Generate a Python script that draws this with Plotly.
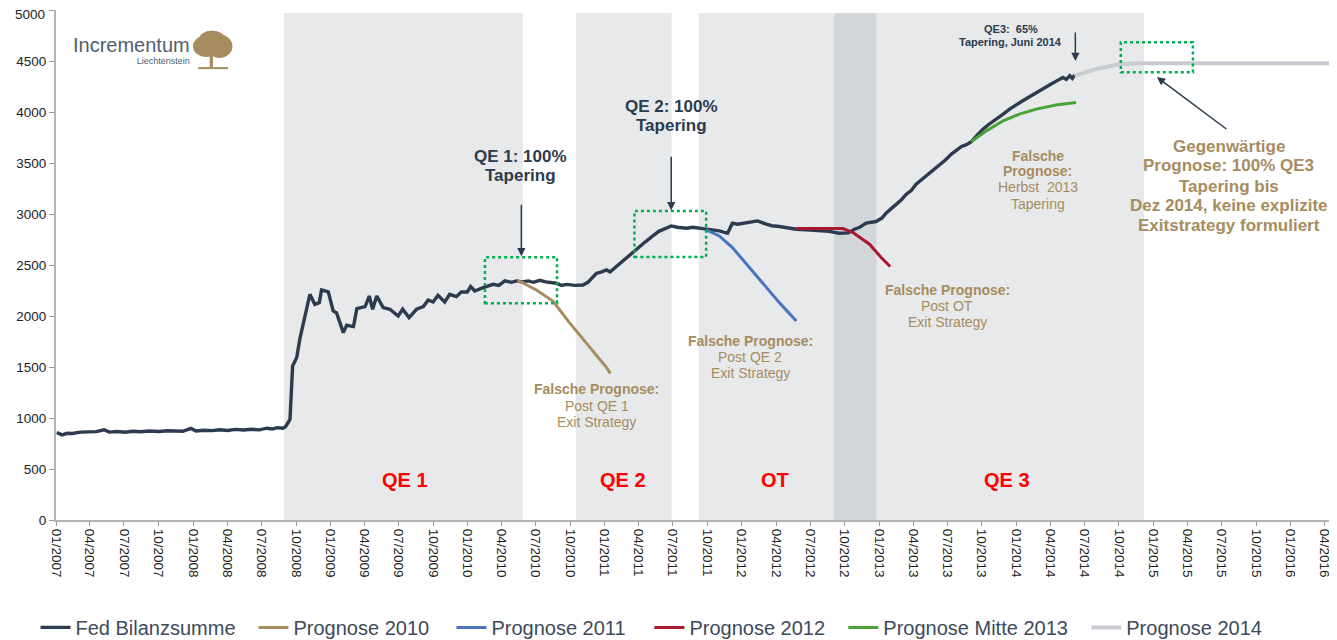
import plotly.graph_objects as go

# ---------------- data ----------------
fed_dates = [
    "2007-01-03", "2007-01-17", "2007-01-31", "2007-02-14", "2007-03-07", "2007-03-28",
    "2007-04-18", "2007-05-09", "2007-05-23", "2007-06-13", "2007-07-04", "2007-07-25",
    "2007-08-15", "2007-09-05", "2007-10-03", "2007-10-24", "2007-11-14", "2007-12-05",
    "2007-12-26", "2008-01-09", "2008-01-30", "2008-02-20", "2008-03-12", "2008-04-02",
    "2008-04-23", "2008-05-14", "2008-06-04", "2008-06-25", "2008-07-16", "2008-07-30",
    "2008-08-13", "2008-08-27", "2008-09-03", "2008-09-15", "2008-09-22", "2008-10-03",
    "2008-10-11", "2008-10-20", "2008-10-27", "2008-11-07", "2008-11-20", "2008-12-02",
    "2008-12-08", "2008-12-26", "2009-01-08", "2009-01-17", "2009-02-04", "2009-02-13",
    "2009-03-03", "2009-03-12", "2009-04-03", "2009-04-14", "2009-04-23", "2009-05-04",
    "2009-05-21", "2009-06-08", "2009-06-30", "2009-07-12", "2009-07-29", "2009-08-18",
    "2009-09-05", "2009-09-18", "2009-10-01", "2009-10-14", "2009-11-01", "2009-11-14",
    "2009-12-02", "2009-12-15", "2009-12-31", "2010-01-09", "2010-01-20", "2010-02-11",
    "2010-03-10", "2010-03-25", "2010-04-10", "2010-04-28", "2010-05-11", "2010-05-26",
    "2010-06-11", "2010-06-25", "2010-07-12", "2010-07-28", "2010-08-25", "2010-09-08",
    "2010-09-22", "2010-10-13", "2010-11-04", "2010-11-17", "2010-12-10", "2010-12-22",
    "2011-01-06", "2011-01-15", "2011-02-02", "2011-02-28", "2011-03-16", "2011-04-04",
    "2011-04-20", "2011-05-09", "2011-05-25", "2011-06-27", "2011-07-13", "2011-08-06",
    "2011-08-24", "2011-09-19", "2011-10-10", "2011-11-02", "2011-11-24", "2011-12-07",
    "2011-12-21", "2012-01-12", "2012-02-12", "2012-03-06", "2012-03-21", "2012-04-10",
    "2012-04-30", "2012-05-25", "2012-06-20", "2012-07-26", "2012-08-20", "2012-09-17",
    "2012-10-10", "2012-10-27", "2012-11-10", "2012-11-27", "2012-12-23", "2013-01-08",
    "2013-01-19", "2013-02-01", "2013-02-15", "2013-03-01", "2013-03-14", "2013-03-27",
    "2013-04-09", "2013-04-25", "2013-05-15", "2013-05-29", "2013-06-11", "2013-06-26",
    "2013-07-12", "2013-07-25", "2013-08-08", "2013-08-21", "2013-09-03", "2013-09-18",
    "2013-10-04", "2013-10-20", "2013-11-09", "2013-11-25", "2013-12-14", "2013-12-30",
    "2014-01-18", "2014-02-05", "2014-02-23", "2014-03-12", "2014-03-30", "2014-04-16",
    "2014-05-05", "2014-05-14", "2014-05-23", "2014-05-30", "2014-06-05",
]
fed_values = [
    858, 835, 850, 848, 862, 860,
    866, 885, 862, 868, 860, 870,
    865, 872, 868, 875, 872, 870,
    898, 872, 880, 876, 884, 878,
    888, 882, 890, 884, 900, 892,
    905, 900, 915, 986, 1510, 1594,
    1771, 1902, 2033, 2213, 2115, 2131,
    2255, 2236, 2049, 2030, 1837, 1909,
    1896, 2072, 2092, 2196, 2066, 2196,
    2082, 2066, 2000, 2066, 1984, 2066,
    2092, 2157, 2137, 2203, 2137, 2213,
    2190, 2236, 2236, 2288, 2245, 2278,
    2311, 2300, 2344, 2330, 2344, 2335,
    2344, 2330, 2350, 2335, 2321, 2300,
    2310, 2300, 2304, 2330, 2419, 2430,
    2451, 2432, 2490, 2573, 2620, 2687,
    2730, 2785, 2830, 2883, 2870, 2860,
    2870, 2857, 2850, 2834, 2811, 2910,
    2900, 2916, 2932, 2900, 2885, 2877,
    2865, 2851, 2845, 2834, 2830, 2811,
    2815, 2851, 2870, 2910, 2926, 2960,
    3008, 3050, 3096, 3140, 3194, 3230,
    3292, 3340, 3407, 3440, 3489, 3530,
    3587, 3620, 3662, 3680, 3708, 3770,
    3832, 3880, 3930, 3975, 4028, 4070,
    4110, 4150, 4192, 4230, 4264, 4300,
    4339, 4320, 4355, 4330, 4362,
]

p2010_dates = ["2010-05-13", "2010-05-23", "2010-07-03", "2010-08-16", "2010-09-29",
               "2010-11-13", "2011-01-06", "2011-01-16"]
p2010_values = [2344, 2334, 2255, 2147, 1935, 1739, 1494, 1438]

p2011_dates = ["2011-09-28", "2011-11-02", "2011-12-07", "2012-01-21", "2012-03-06",
               "2012-04-10", "2012-05-25"]
p2011_values = [2844, 2785, 2671, 2475, 2279, 2131, 1951]

p2012_dates = ["2012-05-25", "2012-09-26", "2012-10-23", "2012-12-06", "2013-01-06",
               "2013-01-30"]
p2012_values = [2857, 2857, 2818, 2704, 2573, 2485]

p2013_dates = ["2013-09-03", "2013-10-13", "2013-11-27", "2014-01-09", "2014-02-23",
               "2014-04-16", "2014-06-09"]
p2013_values = [3708, 3815, 3914, 3979, 4028, 4068, 4094]

p2014_dates = ["2014-06-05", "2014-08-01", "2014-10-06", "2014-11-24", "2016-04-15"]
p2014_values = [4355, 4421, 4470, 4478, 4478]

# y-axis ticks
y_tick_values = [0, 500, 1000, 1500, 2000, 2500, 3000, 3500, 4000, 4500, 5000]
y_tick_labels = ["0", "500", "1000", "1500", "2000", "2500", "3000", "3500", "4000", "4500", "5000"]

# shaded programme periods
phase_starts = ["2008-08-30", "2010-10-16", "2011-09-08", "2012-12-25"]
phase_ends = ["2010-05-28", "2011-06-28", "2012-09-02", "2014-12-07"]
dark_start, dark_end = "2012-09-02", "2012-12-25"
phase_labels = ["QE 1", "QE 2", "OT", "QE 3"]
phase_label_x = ["2009-07-18", "2011-02-18", "2012-03-30", "2013-12-06"]

series_names = ["Fed Bilanzsumme", "Prognose 2010", "Prognose 2011", "Prognose 2012",
                "Prognose Mitte 2013", "Prognose 2014"]
legend_x = [-0.0161, 0.1550, 0.3104, 0.4658, 0.6180, 0.8087]

# ---------------- styling ----------------
NAVY = "#2c3b4e"
BROWN = "#a68c5f"
BLUE = "#4a76bd"
RED = "#a6192e"
GREEN = "#4aa335"
LGRAY = "#c8ccd1"
SHADE = "#e8e9eb"
DSHADE = "#d4d7da"
FONT = "Liberation Sans, Arial, sans-serif"

fig = go.Figure()

series = [
    (fed_dates, fed_values, NAVY, 3.4),
    (p2010_dates, p2010_values, BROWN, 3),
    (p2011_dates, p2011_values, BLUE, 3),
    (p2012_dates, p2012_values, RED, 3),
    (p2013_dates, p2013_values, GREEN, 3),
    (p2014_dates, p2014_values, LGRAY, 4),
]
legend_ids = ["legend", "legend2", "legend3", "legend4", "legend5", "legend6"]
for (d, v, c, w), name, lid in zip(series, series_names, legend_ids):
    fig.add_trace(go.Scatter(x=d, y=v, mode="lines", name=name, legend=lid,
                             line=dict(color=c, width=w), hoverinfo="skip"))

shapes = []
for s, e in zip(phase_starts, phase_ends):
    shapes.append(dict(type="rect", xref="x", yref="y", x0=s, x1=e, y0=0, y1=4970,
                       fillcolor=SHADE, line=dict(width=0), layer="below"))
shapes.append(dict(type="rect", xref="x", yref="y", x0=dark_start, x1=dark_end, y0=0, y1=4970,
                   fillcolor=DSHADE, line=dict(width=0), layer="below"))

# green dotted highlight boxes
boxes = [("2010-02-16", "2010-08-27", 2125, 2576),
         ("2011-03-21", "2011-09-28", 2579, 3030),
         ("2014-10-06", "2015-04-16", 4389, 4683)]
for x0, x1, y0, y1 in boxes:
    shapes.append(dict(type="rect", xref="x", yref="y", x0=x0, x1=x1, y0=y0, y1=y1,
                       line=dict(color="#00b050", width=2.5, dash="dot"),
                       fillcolor="rgba(0,0,0,0)", layer="above"))

# logo tree
shapes += [
    dict(type="circle", xref="paper", yref="paper", x0=0.1075, x1=0.1280, y0=0.908, y1=0.950,
         fillcolor=BROWN, line=dict(width=0)),
    dict(type="circle", xref="paper", yref="paper", x0=0.1180, x1=0.1385, y0=0.906, y1=0.952,
         fillcolor=BROWN, line=dict(width=0)),
    dict(type="circle", xref="paper", yref="paper", x0=0.1120, x1=0.1330, y0=0.922, y1=0.960,
         fillcolor=BROWN, line=dict(width=0)),
    dict(type="rect", xref="paper", yref="paper", x0=0.1206, x1=0.1232, y0=0.887, y1=0.915,
         fillcolor=BROWN, line=dict(width=0)),
    dict(type="line", xref="paper", yref="paper", x0=0.1115, x1=0.1350, y0=0.886, y1=0.886,
         line=dict(color=BROWN, width=2)),
]

ann = []


def txt(x, y, text, size, color, bold=False, xref="x", yref="y", xanchor="center",
        yanchor="middle", align="center"):
    t = f"<b>{text}</b>" if bold else text
    ann.append(dict(x=x, y=y, xref=xref, yref=yref, text=t, showarrow=False,
                    xanchor=xanchor, yanchor=yanchor, align=align,
                    font=dict(family=FONT, size=size, color=color)))


def arrow(x, y, ax, ay):
    ann.append(dict(x=x, y=y, xref="x", yref="y", ax=ax, ay=ay, text="", showarrow=True,
                    arrowhead=2, arrowsize=1.1, arrowwidth=1.5, arrowcolor=NAVY))


# phase labels
for lx, lab in zip(phase_label_x, phase_labels):
    txt(lx, 397, lab, 20, "#ff0000", bold=True)

# tapering notes
txt("2010-05-22", 3567, "QE 1: 100%", 17, NAVY, bold=True)
txt("2010-05-22", 3381, "Tapering", 17, NAVY, bold=True)
arrow("2010-05-24", 2586, 0, -53)

txt("2011-06-28", 4058, "QE 2: 100%", 17, NAVY, bold=True)
txt("2011-06-28", 3872, "Tapering", 17, NAVY, bold=True)
arrow("2011-06-27", 3037, 0, -55)

txt("2013-12-17", 4813, "QE3:  65%", 11, NAVY, bold=True)
txt("2013-12-17", 4686, "Tapering, Juni 2014", 11, NAVY, bold=True)
arrow("2014-06-07", 4500, 0, -30)

gx = "2015-07-21"
for yv, line in zip([3665, 3479, 3273, 3086, 2890],
                    ["Gegenwärtige", "Prognose: 100% QE3", "Tapering bis",
                     "Dez 2014, keine explizite", "Exitstrategy formuliert"]):
    txt(gx, yv, line, 17, BROWN, bold=True)
arrow("2015-01-10", 4342, 71, 53)

# false forecast notes
for xv, ys, lines in [
    ("2010-12-11", [1281, 1114, 957], ["Falsche Prognose:", "Post QE 1", "Exit Strategy"]),
    ("2012-01-24", [1752, 1595, 1438], ["Falsche Prognose:", "Post QE 2", "Exit Strategy"]),
    ("2013-07-01", [2252, 2095, 1938], ["Falsche Prognose:", "Post OT", "Exit Strategy"]),
]:
    for i, (yv, line) in enumerate(zip(ys, lines)):
        txt(xv, yv, line, 14, BROWN, bold=(i == 0))

for i, (yv, line) in enumerate(zip([3567, 3420, 3263, 3096],
                                   ["Falsche", "Prognose:", "Herbst  2013", "Tapering"])):
    txt("2014-02-27", yv, line, 14, BROWN, bold=(i < 2))

# logo text (one block, two sizes)
ann.append(dict(x=0.1064, y=0.957, xref="paper", yref="paper", showarrow=False,
                xanchor="right", yanchor="top", align="right",
                text="<span style='font-size:20px'>Incrementum</span><br>Liechtenstein",
                font=dict(family=FONT, size=9, color="#4f6070")))

# top y label drawn as annotation, nudged down so it is not clipped by the page edge
ann.append(dict(x=0, y=y_tick_values[-1], xref="paper", yref="y", showarrow=False,
                xanchor="right", yanchor="middle", xshift=-9.5, yshift=-4,
                text=y_tick_labels[-1],
                font=dict(family=FONT, size=13.5, color="#222222")))

legends = {}
for lid, lx in zip(legend_ids, legend_x):
    legends[lid] = dict(orientation="h", x=lx, xanchor="left", y=-0.2106, yanchor="middle",
                        font=dict(family=FONT, size=20, color="#3d4a5c"),
                        bgcolor="rgba(0,0,0,0)", itemwidth=30)

# the page body adds an 8px offset, so the figure is sized to the remaining window
fig.update_layout(
    width=1329, height=632,
    margin=dict(l=47.5, r=7, t=2, b=119.5, autoexpand=False),
    paper_bgcolor="white", plot_bgcolor="white",
    font=dict(family=FONT, color="#222222"),
    shapes=shapes, annotations=ann,
    showlegend=True,
    xaxis=dict(type="date", range=["2007-01-01", "2016-04-15"], tick0="2007-01-01",
               dtick="M3", tickformat="%m/%Y", tickangle=90, automargin=False,
               ticklabeloverflow="allow",
               ticks="outside", ticklen=4, tickcolor="#999999",
               showline=True, linecolor="#b5b5b5", linewidth=2,
               showgrid=False, zeroline=False,
               tickfont=dict(family=FONT, size=13.5, color="#222222")),
    yaxis=dict(range=[0, 5000], tickmode="array", tickvals=y_tick_values,
               ticktext=y_tick_labels[:-1] + [""],
               ticks="outside", ticklen=5, tickcolor="#999999",
               automargin=False, ticklabeloverflow="allow",
               showline=True, linecolor="#b5b5b5", linewidth=2,
               showgrid=False, zeroline=False,
               tickfont=dict(family=FONT, size=13.5, color="#222222")),
    **legends,
)

fig.write_html("out.html")
